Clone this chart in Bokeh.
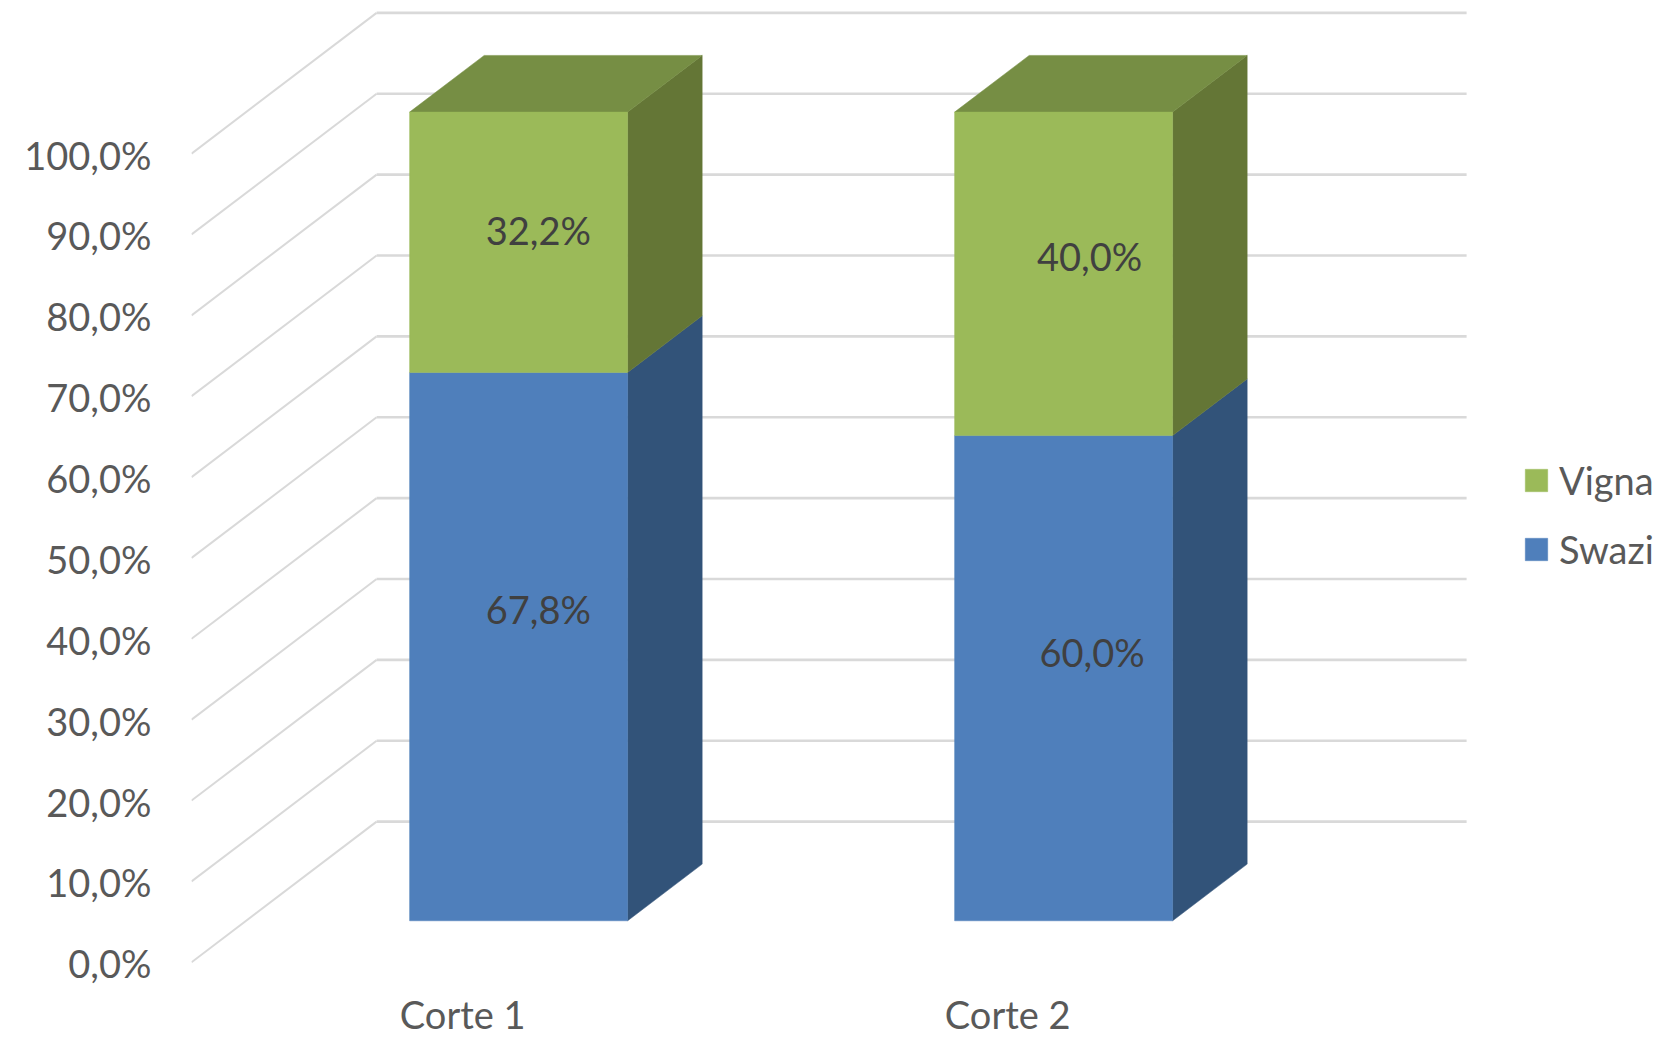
from bokeh.embed import file_html
from bokeh.resources import INLINE
from bokeh.core.properties import value
from bokeh.models import (ColumnDataSource, FixedTicker, Legend, LegendItem,
                          LinearAxis, Range1d)
from bokeh.plotting import figure

# Chart data
categories = ["Corte 1", "Corte 2"]
series_names = ["Swazi", "Vigna"]
swazi = [67.8, 60.0]
vigna = [32.2, 40.0]
tick_values = [0, 10, 20, 30, 40, 50, 60, 70, 80, 90, 100]
tick_labels = ["0,0%", "10,0%", "20,0%", "30,0%", "40,0%", "50,0%",
               "60,0%", "70,0%", "80,0%", "90,0%", "100,0%"]

# Page and plot-area geometry, in pixels
PAGE_W, PAGE_H = 1660, 1037
FRAME_LEFT, FRAME_BOTTOM_PX = 191, 1037
CATEGORY_AXIS_PX = 975
FLOOR_LEFT_PX = 189.7
PX_PER_PCT = 8.087
PX_PER_CAT = 545.0
FLOOR_FRONT_PX = 962.8

# Oblique projection: a unit of depth shifts a point right and up
DEPTH_DX = 186.4 / PX_PER_CAT
DEPTH_DY = 141.7 / PX_PER_PCT
BAR_DEPTH = (0.30, 0.70)
BAR_WIDTH = 0.40

FRONT_BLUE, SIDE_BLUE = "#4F7FBB", "#325379"
FRONT_GREEN, SIDE_GREEN, TOP_GREEN = "#9BBA59", "#647636", "#768E44"
GRID = "#D9D9D9"
FONT = "Lato"
FONT_SIZE = "38px"


def project(cat, depth, pct):
    return cat + depth * DEPTH_DX, pct + depth * DEPTH_DY


x_start = 0.5 + (FRAME_LEFT - FLOOR_LEFT_PX) / PX_PER_CAT
x_end = x_start + (PAGE_W - FRAME_LEFT) / PX_PER_CAT
y_start = (FLOOR_FRONT_PX - FRAME_BOTTOM_PX) / PX_PER_PCT
y_end = FLOOR_FRONT_PX / PX_PER_PCT

p = figure(width=PAGE_W, height=PAGE_H, output_backend="svg", toolbar_location=None,
           x_range=Range1d(x_start, x_end), y_range=Range1d(y_start, y_end),
           x_axis_type=None, y_axis_type=None,
           min_border_left=FRAME_LEFT, min_border_right=0, min_border_top=0,
           min_border_bottom=0, outline_line_color=None)
p.xgrid.visible = False
p.ygrid.visible = False

# Wall and floor gridlines
for pct in tick_values:
    x0, y0 = project(0.5, 0.007, pct)
    x1, y1 = project(0.5, 1, pct)
    x2, y2 = project(2.5, 1, pct)
    p.line([x0, x1], [y0, y1], line_color=GRID, line_width=2.0)
    p.line([x1, x2], [y1, y2], line_color=GRID, line_width=2.6)


def face_polys(cat, low, high):
    d0, d1 = BAR_DEPTH
    c0, c1 = cat - BAR_WIDTH / 2, cat + BAR_WIDTH / 2
    corners = {
        "front": [(c0, d0, low), (c1, d0, low), (c1, d0, high), (c0, d0, high)],
        "side": [(c1, d0, low), (c1, d1, low), (c1, d1, high), (c1, d0, high)],
        "top": [(c0, d0, high), (c1, d0, high), (c1, d1, high), (c0, d1, high)],
    }
    out = {}
    for name, pts in corners.items():
        xy = [project(*pt) for pt in pts]
        out[name] = ([a for a, _ in xy], [b for _, b in xy])
    return out


legend_rows = {}
positions = [1, 2]
layers = [
    ("Swazi", [0, 0], swazi, FRONT_BLUE, SIDE_BLUE, None),
    ("Vigna", swazi, vigna, FRONT_GREEN, SIDE_GREEN, TOP_GREEN),
]
for name, bases, heights, front_c, side_c, top_c in layers:
    faces = [face_polys(c, b, b + h) for c, b, h in zip(positions, bases, heights)]
    side = p.patches([f["side"][0] for f in faces], [f["side"][1] for f in faces],
                     fill_color=side_c, line_color=side_c, line_width=0.5)
    if top_c:
        p.patches([f["top"][0] for f in faces], [f["top"][1] for f in faces],
                  fill_color=top_c, line_color=top_c, line_width=0.5)
    front = p.patches([f["front"][0] for f in faces], [f["front"][1] for f in faces],
                      fill_color=front_c, line_color=front_c, line_width=0.5)
    legend_rows[name] = front

# Value labels sit on the middle of each front face, nudged by hand
label_x, label_y, label_text, label_dx, label_dy = [], [], [], [], []
nudges = {("Swazi", 0): (19.7, 37.5), ("Swazi", 1): (28.5, 26.5),
          ("Vigna", 0): (19.7, 12), ("Vigna", 1): (26, 18.2)}
for name, bases, heights, *_ in layers:
    for i, (b, h) in enumerate(zip(bases, heights)):
        lx, ly = project(positions[i], BAR_DEPTH[0], b + h / 2)
        label_x.append(lx)
        label_y.append(ly)
        label_text.append(f"{h:.1f}%".replace(".", ","))
        label_dx.append(nudges[(name, i)][0])
        label_dy.append(-nudges[(name, i)][1])
p.text("x", "y", text="t", x_offset="dx", y_offset="dy",
       source=ColumnDataSource(dict(x=label_x, y=label_y, t=label_text,
                                    dx=label_dx, dy=label_dy)),
       text_font=value(FONT), text_font_size=FONT_SIZE, text_color="#404040",
       text_align="center", text_baseline="middle")

# Value axis, running along the front edge of the left wall
yaxis = LinearAxis(ticker=FixedTicker(ticks=tick_values),
                   major_label_overrides=dict(zip(tick_values, tick_labels)),
                   axis_line_color=None, major_tick_line_color=None,
                   minor_tick_line_color=None, major_label_standoff=34,
                   major_label_text_font=FONT, major_label_text_font_size=FONT_SIZE,
                   major_label_text_color="#595959")
p.add_layout(yaxis, "left")

# Category axis under the floor, pinned inside the frame so that its tall
# labels do not take height away from the plot area
xaxis = LinearAxis(ticker=FixedTicker(ticks=positions),
                   major_label_overrides=dict(zip(positions, categories)),
                   axis_line_color=None, major_tick_line_color=None,
                   minor_tick_line_color=None, major_label_standoff=9,
                   fixed_location=(FLOOR_FRONT_PX - CATEGORY_AXIS_PX) / PX_PER_PCT,
                   major_label_text_font=FONT, major_label_text_font_size=FONT_SIZE,
                   major_label_text_color="#595959")
p.add_layout(xaxis, "below")

legend = Legend(items=[LegendItem(label=n, renderers=[legend_rows[n]])
                       for n in reversed(series_names)],
                location=(1522 - FRAME_LEFT, FRAME_BOTTOM_PX - 572), orientation="vertical",
                background_fill_alpha=0, border_line_color=None,
                glyph_width=28, glyph_height=28, label_height=24,
                label_standoff=9, spacing=23, padding=0, margin=0,
                label_text_font=FONT, label_text_font_size=FONT_SIZE,
                label_text_color="#595959")
p.add_layout(legend, "center")

open("out.html", "w").write(file_html(p, INLINE))
